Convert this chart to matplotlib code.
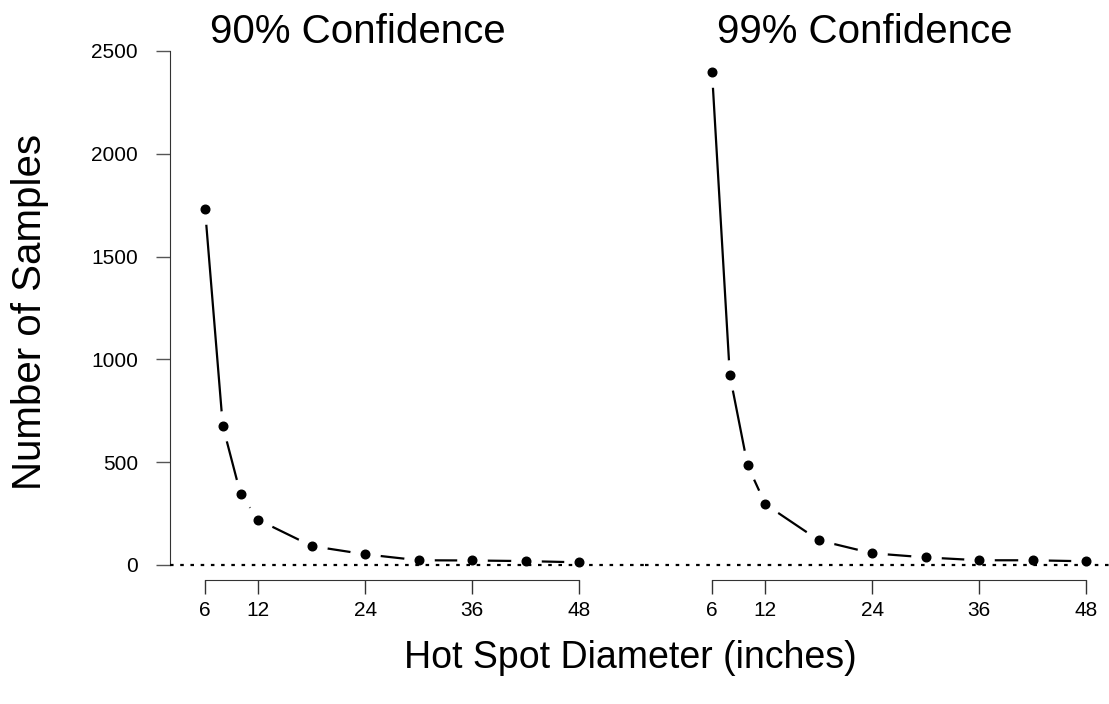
import matplotlib
matplotlib.use("Agg")
import matplotlib.pyplot as plt

plt.rcParams['font.family'] = ['Liberation Sans', 'DejaVu Sans']

diameters = [6, 8, 10, 12, 18, 24, 30, 36, 42, 48]
samples_90 = [1732, 676, 344, 219, 92, 52, 23, 22, 19, 13]
samples_99 = [2400, 924, 484, 295, 120, 57, 37, 23, 23, 18]
x_ticks = [6, 12, 24, 36, 48]
y_ticks = [0, 500, 1000, 1500, 2000, 2500]
titles = ["90% Confidence", "99% Confidence"]

W, H = 1109, 704
fig = plt.figure(figsize=(W / 100, H / 100), dpi=100)

px_per_in = 8.905
y0_px, y2500_px = 565, 51
per_px = 2500 / (y0_px - y2500_px)
ax_bottom_px, ax_top_px = 580, 40
ylim = (-(ax_bottom_px - y0_px) * per_px, 2500 + (y2500_px - ax_top_px) * per_px)


def make_ax(left_px, right_px, six_px):
    ax = fig.add_axes([left_px / W, 1 - ax_bottom_px / H,
                       (right_px - left_px) / W, (ax_bottom_px - ax_top_px) / H])
    ax.set_xlim(6 - (six_px - left_px) / px_per_in, 6 + (right_px - six_px) / px_per_in)
    ax.set_ylim(*ylim)
    ax.patch.set_visible(False)
    for s in ['top', 'right']:
        ax.spines[s].set_visible(False)
    ax.spines['bottom'].set_bounds(6, 48)
    ax.set_xticks(x_ticks)
    ax.tick_params(axis='x', direction='out', length=10, width=1, pad=5,
                   labelsize=15, color='#333333')
    ax.tick_params(axis='y', direction='out', length=10, width=1, pad=13,
                   labelsize=15, color='#555555')
    ax.spines['bottom'].set_color('#333333')
    ax.spines['left'].set_color('#333333')
    return ax


ax1 = make_ax(170, 645, 205)
ax2 = make_ax(645, 1109, 712)

ax1.spines['left'].set_bounds(0, 2500)
ax1.set_yticks(y_ticks)
ax2.spines['left'].set_visible(False)
ax2.set_yticks([])

for ax, ys in [(ax1, samples_90), (ax2, samples_99)]:
    ax.plot(diameters, ys, color='black', lw=1.6, zorder=1, solid_capstyle='butt')
    ax.plot(diameters, ys, 'o', ms=21, mfc='white', mec='white', zorder=2)
    ax.axhline(0, color='black', lw=1.6, ls=(0, (1.6, 3.0)), zorder=3)
    ax.plot(diameters, ys, 'o', ms=6.2, mfc='black', mec='black', zorder=4)

fig.text(358 / W, 1 - 43 / H, titles[0], fontsize=29, ha='center', va='baseline')
fig.text(865 / W, 1 - 43 / H, titles[1], fontsize=29, ha='center', va='baseline')
fig.text(630 / W, 1 - 668 / H, "Hot Spot Diameter (inches)", fontsize=27,
         ha='center', va='baseline')
fig.text(30 / W, 1 - 312 / H, "Number of Samples", fontsize=29, rotation=90,
         ha='center', va='center')

fig.savefig("out.png", dpi=100)
